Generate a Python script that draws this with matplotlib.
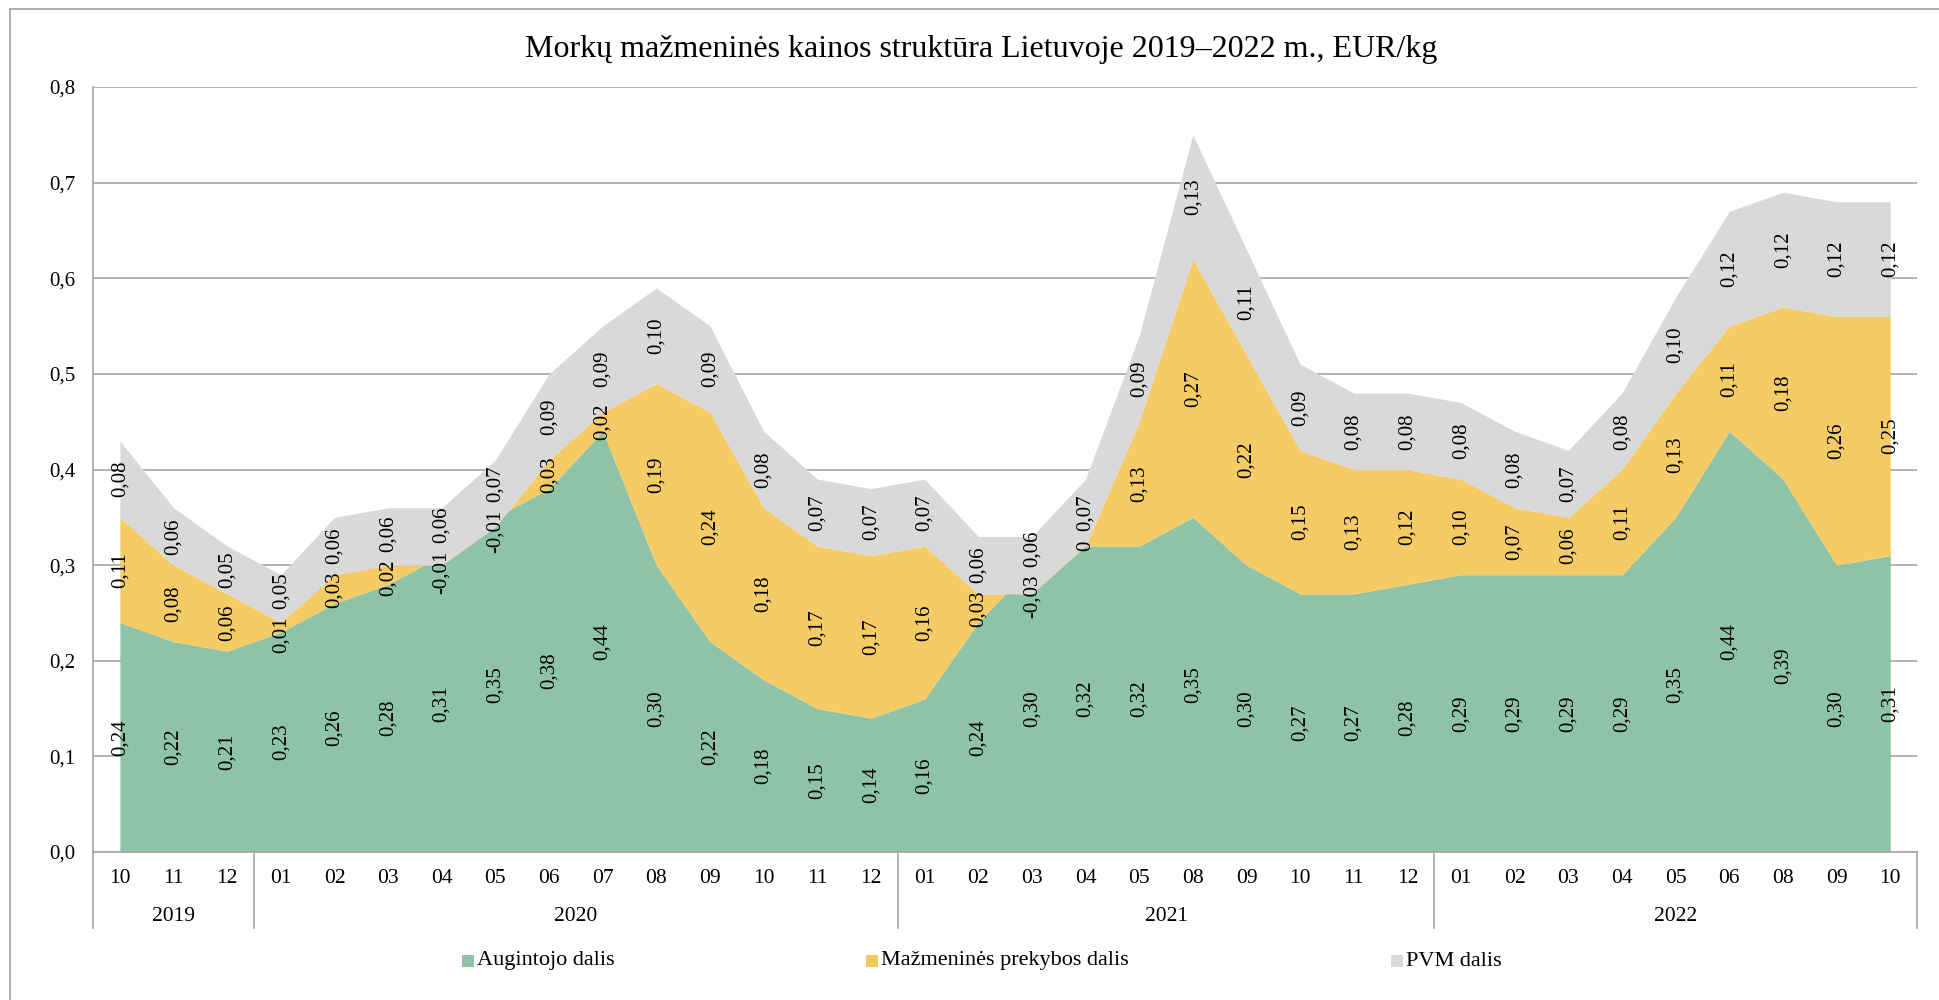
import numpy as np
import matplotlib.pyplot as plt
import matplotlib.transforms as mtransforms
from matplotlib.patches import Rectangle

plt.rcParams['font.family'] = ['Liberation Serif', 'DejaVu Serif']

months = ['10', '11', '12',
          '01', '02', '03', '04', '05', '06', '07', '08', '09', '10', '11', '12',
          '01', '02', '03', '04', '05', '08', '09', '10', '11', '12',
          '01', '02', '03', '04', '05', '06', '08', '09', '10']
years = ['2019', '2020', '2021', '2022']
year_sizes = [3, 12, 10, 9]

augintojo = [0.24, 0.22, 0.21,
             0.23, 0.26, 0.28, 0.31, 0.35, 0.38, 0.44, 0.30, 0.22, 0.18, 0.15, 0.14,
             0.16, 0.24, 0.30, 0.32, 0.32, 0.35, 0.30, 0.27, 0.27, 0.28,
             0.29, 0.29, 0.29, 0.29, 0.35, 0.44, 0.39, 0.30, 0.31]
prekybos = [0.11, 0.08, 0.06,
            0.01, 0.03, 0.02, -0.01, -0.01, 0.03, 0.02, 0.19, 0.24, 0.18, 0.17, 0.17,
            0.16, 0.03, -0.03, 0.0, 0.13, 0.27, 0.22, 0.15, 0.13, 0.12,
            0.10, 0.07, 0.06, 0.11, 0.13, 0.11, 0.18, 0.26, 0.25]
pvm = [0.08, 0.06, 0.05,
       0.05, 0.06, 0.06, 0.06, 0.07, 0.09, 0.09, 0.10, 0.09, 0.08, 0.07, 0.07,
       0.07, 0.06, 0.06, 0.07, 0.09, 0.13, 0.11, 0.09, 0.08, 0.08,
       0.08, 0.08, 0.07, 0.08, 0.10, 0.12, 0.12, 0.12, 0.12]

names = ['Augintojo dalis', 'Mažmeninės prekybos dalis', 'PVM dalis']
colors = ['#8ec3a7', '#f5cb65', '#d9d9d9']
title = 'Morkų mažmeninės kainos struktūra Lietuvoje 2019–2022 m., EUR/kg'


def lt(v):
    if v == 0:
        return '0'
    return f'{v:.2f}'.replace('.', ',')


fig = plt.figure(figsize=(19.39, 10), dpi=100)
ax = fig.add_axes([0.048, 0.148, 0.9407, 0.765])

x = np.arange(len(months))
series = [np.array(augintojo), np.array(prekybos), np.array(pvm)]
base = np.zeros(len(x))
labels = []
for k, s in enumerate(series):
    top = base + s
    ax.fill_between(x, base, top, color=colors[k], lw=0, zorder=2 + k)
    row = []
    for i in range(len(x)):
        t = ax.text(x[i], base[i] + s[i] / 2, lt(s[i]), rotation=90,
                    ha='center', va='center', fontsize=15, zorder=10)
        row.append(t)
    labels.append(row)
    base = top

ax.set_xlim(-0.5, len(x) - 0.5)
ax.set_ylim(0, 0.8)
ax.set_yticks(np.arange(0, 0.81, 0.1))
ax.yaxis.set_major_formatter(plt.FuncFormatter(lambda v, p: f'{v:.1f}'.replace('.', ',')))
ax.tick_params(axis='y', length=0, pad=13, labelsize=15)
ax.set_xticks([])
ax.grid(axis='y', color='#a6a6a6', lw=1.2)
ax.set_axisbelow(True)
for sp in ['top', 'right']:
    ax.spines[sp].set_visible(False)
for sp in ['left', 'bottom']:
    ax.spines[sp].set_color('#a6a6a6')
    ax.spines[sp].set_linewidth(1.2)
    ax.spines[sp].set_zorder(6)

# push apart data labels that would overlap within one category
fig.canvas.draw()
inv = ax.transData.inverted()
pad = 0.008
for i in range(len(x)):
    pos = [labels[k][i].get_position()[1] for k in range(3)]
    half = []
    for k in range(3):
        bb = labels[k][i].get_window_extent()
        y0 = inv.transform((bb.x0, bb.y0))[1]
        y1 = inv.transform((bb.x0, bb.y1))[1]
        half.append((y1 - y0) / 2)
    for _ in range(3):
        for k in range(2):
            need = half[k] + half[k + 1] + pad
            gap = pos[k + 1] - pos[k]
            if gap < need:
                d = (need - gap) / 2
                pos[k] -= d
                pos[k + 1] += d
    for k in range(3):
        labels[k][i].set_y(pos[k])

# category axis: months and years
tr = mtransforms.blended_transform_factory(ax.transData, ax.transAxes)
for i, m in enumerate(months):
    ax.text(x[i], -0.034, m, transform=tr, ha='center', va='center', fontsize=15.5)
start = 0
bounds = [-0.5]
for yname, size in zip(years, year_sizes):
    ax.text(start + (size - 1) / 2, -0.084, yname, transform=tr,
            ha='center', va='center', fontsize=15.5)
    start += size
    bounds.append(start - 0.5)
for b in bounds:
    ax.plot([b, b], [0, -0.099], transform=tr, color='#a6a6a6', lw=1.2, clip_on=False)

fig.text(0.506, 0.951, title, ha='center', va='center', fontsize=23)

# legend
leg_x = [0.2383, 0.4466, 0.7174]
for lx, c, n in zip(leg_x, colors, names):
    fig.patches.append(Rectangle((lx, 0.033), 0.0062, 0.012, transform=fig.transFigure,
                                 facecolor=c, edgecolor='none'))
    fig.text(lx + 0.0078, 0.039, n, ha='left', va='center', fontsize=16)

fig.patches.append(Rectangle((0.005, -0.05), 1.2, 1.041, transform=fig.transFigure,
                             fill=False, edgecolor='#a0a0a0', lw=1.2))

fig.savefig('out.png', dpi=100)
